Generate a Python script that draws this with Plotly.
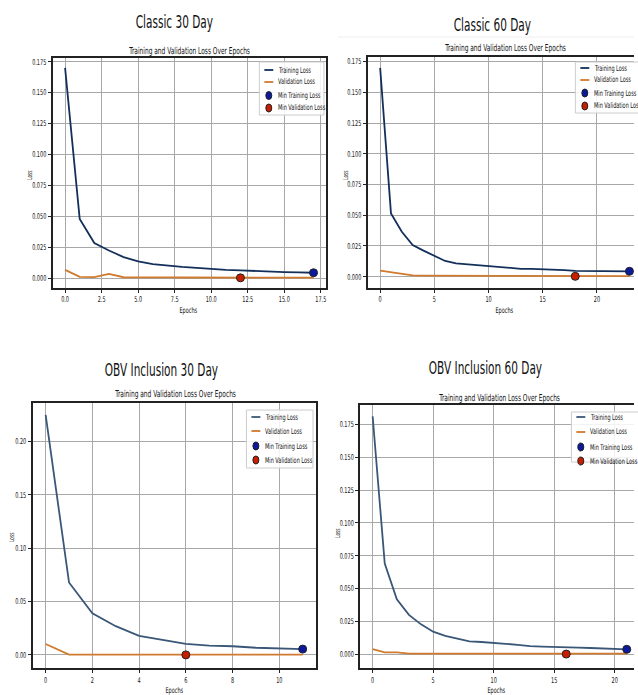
import numpy as np
import plotly.graph_objects as go

W, H = 638, 695

# ---------------- data ----------------
panel_titles = ["Classic 30 Day", "Classic 60 Day", "OBV Inclusion 30 Day", "OBV Inclusion 60 Day"]
subtitle = "Training and Validation Loss Over Epochs"

train_c30 = [0.170, 0.0480, 0.0285, 0.0225, 0.0172, 0.0137, 0.0115, 0.0102, 0.0092, 0.0085,
             0.0075, 0.0068, 0.0064, 0.0058, 0.0054, 0.0051, 0.0049, 0.0045]
val_c30 = [0.0068, 0.0012, 0.0010, 0.0036, 0.0009, 0.0007, 0.0007, 0.0008, 0.0007, 0.0007,
           0.0007, 0.0006, 0.0004, 0.0006, 0.0006, 0.0006, 0.0006, 0.0006]

train_c60 = [0.170, 0.0515, 0.0366, 0.0258, 0.0212, 0.0168, 0.0128, 0.0109, 0.0101, 0.0096,
             0.0088, 0.0075, 0.0070, 0.0064, 0.0063, 0.0061, 0.0056, 0.0053, 0.0048, 0.0048,
             0.0047, 0.0047, 0.0047, 0.0044]
val_c60 = [0.0050, 0.0037, 0.0028, 0.0010, 0.0008, 0.0007, 0.0006, 0.0006, 0.0006, 0.0006,
           0.0006, 0.0006, 0.0006, 0.0006, 0.0006, 0.0005, 0.0005, 0.0005, 0.0003, 0.0005,
           0.0005, 0.0005, 0.0005, 0.0005]

train_o30 = [0.225, 0.068, 0.039, 0.027, 0.018, 0.014, 0.0105, 0.0088, 0.0082, 0.0068, 0.0060, 0.0055]
val_o30 = [0.0103, 0.0004, 0.0003, 0.0003, 0.0003, 0.0003, 0.0001, 0.0003, 0.0003, 0.0003, 0.0003, 0.0003]

train_o60 = [0.181, 0.069, 0.0418, 0.030, 0.0228, 0.0172, 0.014, 0.0117, 0.0098, 0.0094,
             0.0089, 0.0080, 0.0072, 0.0062, 0.0058, 0.0054, 0.0053, 0.0051, 0.0048, 0.0046,
             0.0040, 0.0038]
val_o60 = [0.0040, 0.0015, 0.0015, 0.0006, 0.0005, 0.0005, 0.0005, 0.0005, 0.0005, 0.0005,
           0.0005, 0.0006, 0.0005, 0.0005, 0.0005, 0.0006, 0.0002, 0.0005, 0.0005, 0.0005,
           0.0005, 0.0005]

x_ticks_c30 = [0.0, 2.5, 5.0, 7.5, 10.0, 12.5, 15.0, 17.5]
x_ticks_5 = [0, 5, 10, 15, 20]
x_ticks_o30 = [0, 2, 4, 6, 8, 10]
y_ticks_175 = [0.000, 0.025, 0.050, 0.075, 0.100, 0.125, 0.150, 0.175]
y_ticks_o30 = [0.00, 0.05, 0.10, 0.15, 0.20]

legend_labels = ["Training Loss", "Validation Loss", "Min Training Loss", "Min Validation Loss"]

# ---------------- styling ----------------
FONT = "DejaVu Sans, sans-serif"
SQUASH = 0.62  # horizontal compression of the screenshot text
C_TRAIN = ["#13305a", "#13305a", "#3a5778", "#3a5778"]
C_VAL = "#cf7a2e"
C_MIN_T = "#0b1a9c"
C_MIN_V = "#c81e00"


def px(x):
    return x / W


def py(y):
    return 1 - y / H


panels = [
    dict(train=train_c30, val=val_c30, box=(53, 58, 328, 288), xr=[-0.85, 17.85], yr=[-0.0078, 0.178],
         xt=x_ticks_c30, xfmt=".1f", yt=y_ticks_175, yfmt=".3f", right=True, lw=1.5,
         title=(176, 22), sub=(190, 50), ylab=(30, 175), xlab=(190, 310),
         leg=(261, 62, 326, 115), legy=[70, 82, 95.5, 108]),
    dict(train=train_c60, val=val_c60, box=(370, 57, 638, 288), xr=[-1.15, 23.42], yr=[-0.0092, 0.1788],
         xt=x_ticks_5, xfmt="d", yt=y_ticks_175, yfmt=".3f", right=False, lw=1.5,
         title=(496, 25), sub=(508, 48), ylab=(348, 175), xlab=(508, 310),
         leg=(579, 62, 645, 113), legy=[68, 80, 93, 106]),
    dict(train=train_o30, val=val_o30, box=(33, 402.7, 318, 668), xr=[-0.55, 11.57], yr=[-0.0122, 0.2365],
         xt=x_ticks_o30, xfmt="d", yt=y_ticks_o30, yfmt=".2f", right=True, lw=2,
         title=(163, 370), sub=(176, 393), ylab=(12, 537), xlab=(176, 690),
         leg=(248, 410, 315, 468), legy=[417, 431, 446, 460]),
    dict(train=train_o60, val=val_o60, box=(362.7, 405, 638, 668), xr=[-1.01, 21.6], yr=[-0.0104, 0.1897],
         xt=x_ticks_5, xfmt="d", yt=y_ticks_175, yfmt=".3f", right=False, lw=2,
         title=(489, 368), sub=(502, 397), ylab=(340, 533), xlab=(500, 690),
         leg=(575, 412, 645, 462), legy=[417, 432, 447, 461]),
]

fig = go.Figure()
annotations = []
shapes = []
layout = dict(width=W, height=H, margin=dict(l=0, r=0, t=0, b=0),
              paper_bgcolor="white", plot_bgcolor="white", showlegend=False,
              font=dict(family=FONT, color="#111111", size=8))

for i, p in enumerate(panels):
    n = i + 1
    xa = "x" if n == 1 else f"x{n}"
    ya = "y" if n == 1 else f"y{n}"
    epochs = np.arange(len(p["train"]))
    tr = np.array(p["train"])
    va = np.array(p["val"])
    it = int(np.argmin(tr))
    iv = int(np.argmin(va))

    fig.add_trace(go.Scatter(x=epochs, y=tr, mode="lines", name=legend_labels[0],
                             line=dict(color=C_TRAIN[i], width=1.8), xaxis=xa, yaxis=ya))
    fig.add_trace(go.Scatter(x=epochs, y=va, mode="lines", name=legend_labels[1],
                             line=dict(color=C_VAL, width=1.8), xaxis=xa, yaxis=ya))
    fig.add_trace(go.Scatter(x=[epochs[it]], y=[tr[it]], mode="markers", name=legend_labels[2],
                             marker=dict(color=C_MIN_T, size=8, line=dict(color="#222222", width=1)),
                             xaxis=xa, yaxis=ya))
    fig.add_trace(go.Scatter(x=[epochs[iv]], y=[va[iv]], mode="markers", name=legend_labels[3],
                             marker=dict(color=C_MIN_V, size=8, line=dict(color="#222222", width=1)),
                             xaxis=xa, yaxis=ya))

    l, t, r, b = p["box"]
    xkey = "xaxis" if n == 1 else f"xaxis{n}"
    ykey = "yaxis" if n == 1 else f"yaxis{n}"
    layout[xkey] = dict(domain=[px(l), px(r)], range=p["xr"], anchor=ya,
                        tickvals=p["xt"], tickformat=p["xfmt"],
                        showgrid=True, gridcolor="#a8a8a8", gridwidth=1, zeroline=False,
                        showline=True, linecolor="#222222", linewidth=p["lw"], mirror=True,
                        ticks="outside", ticklen=3, tickcolor="#222222",
                        tickfont=dict(family=FONT, size=8, color="#111111"))
    layout[ykey] = dict(domain=[py(b), py(t)], range=p["yr"], anchor=xa,
                        tickvals=p["yt"], tickformat=p["yfmt"],
                        showgrid=True, gridcolor="#a8a8a8", gridwidth=1, zeroline=False,
                        showline=True, linecolor="#222222", linewidth=p["lw"],
                        mirror=True if p["right"] else False,
                        ticks="outside", ticklen=3, tickcolor="#222222",
                        tickfont=dict(family=FONT, size=8, color="#111111"))

    # titles
    annotations.append(dict(text=panel_titles[i], x=px(p["title"][0]), y=py(p["title"][1]),
                            xref="paper", yref="paper", xanchor="center", yanchor="middle",
                            showarrow=False, font=dict(family=FONT, size=17, color="#111111")))
    annotations.append(dict(text=subtitle, x=px(p["sub"][0]), y=py(p["sub"][1]),
                            xref="paper", yref="paper", xanchor="center", yanchor="middle",
                            showarrow=False, font=dict(family=FONT, size=9.5, color="#111111")))
    annotations.append(dict(text="Loss", x=px(p["ylab"][0]), y=py(p["ylab"][1]), textangle=-90,
                            xref="paper", yref="paper", xanchor="center", yanchor="middle",
                            showarrow=False, font=dict(family=FONT, size=7, color="#111111")))
    annotations.append(dict(text="Epochs", x=px(p["xlab"][0]), y=py(p["xlab"][1]),
                            xref="paper", yref="paper", xanchor="center", yanchor="middle",
                            showarrow=False, font=dict(family=FONT, size=8, color="#111111")))

    # manual legend
    ll, lt, lr, lb = p["leg"]
    shapes.append(dict(type="rect", xref="paper", yref="paper", x0=px(ll), x1=px(lr), y0=py(lb), y1=py(lt),
                       line=dict(color="#cccccc", width=1), fillcolor="rgba(255,255,255,0.85)"))
    lx0 = ll + 5
    lx1 = ll + 14
    for k, yy in enumerate(p["legy"]):
        if k < 2:
            shapes.append(dict(type="line", xref="paper", yref="paper", x0=px(lx0), x1=px(lx1),
                               y0=py(yy), y1=py(yy),
                               line=dict(color=C_TRAIN[i] if k == 0 else C_VAL, width=1.8)))
        else:
            cx = (lx0 + lx1) / 2
            shapes.append(dict(type="circle", xref="paper", yref="paper",
                               x0=px(cx - 3), x1=px(cx + 3), y0=py(yy + 4), y1=py(yy - 4),
                               fillcolor=C_MIN_T if k == 2 else C_MIN_V,
                               line=dict(color="#222222", width=1)))
        annotations.append(dict(text=legend_labels[k], x=px(lx1 + 3), y=py(yy), align="left",
                                xref="paper", yref="paper", xanchor="left", yanchor="middle",
                                showarrow=False, font=dict(family=FONT, size=8, color="#111111")))

# faint screenshot edge line above the top-right panel
shapes.append(dict(type="line", xref="paper", yref="paper", x0=px(340), x1=1, y0=py(37), y1=py(37),
                   line=dict(color="#eeeeee", width=1)))

layout["annotations"] = annotations
layout["shapes"] = shapes
fig.update_layout(**layout)

post_js = """
document.body.style.margin = '0';
document.body.style.padding = '0';
(function() {
  var gd = document.getElementById('{plot_id}');
  var S = %s;
  function squash() {
    var texts = gd.querySelectorAll('svg text');
    texts.forEach(function(t) {
      var cur = t.getAttribute('transform') || '';
      if (t.getAttribute('data-sq') === cur && cur.indexOf('scale(') >= 0) return;
      var base = t.getAttribute('data-base');
      if (base === null || cur.indexOf('scale(') < 0) { base = cur; t.setAttribute('data-base', base); }
      var x = parseFloat(t.getAttribute('x') || '0');
      var nt = (base + ' translate(' + x + ',0) scale(' + S + ',1) translate(' + (-x) + ',0)').trim();
      t.setAttribute('transform', nt);
      t.setAttribute('data-sq', nt);
    });
  }
  squash();
  setTimeout(squash, 0);
  setTimeout(squash, 50);
  setTimeout(squash, 300);
  if (gd.on) { gd.on('plotly_afterplot', squash); }
})();
""" % SQUASH

fig.write_html("out.html", post_script=post_js, config={"displayModeBar": False})
